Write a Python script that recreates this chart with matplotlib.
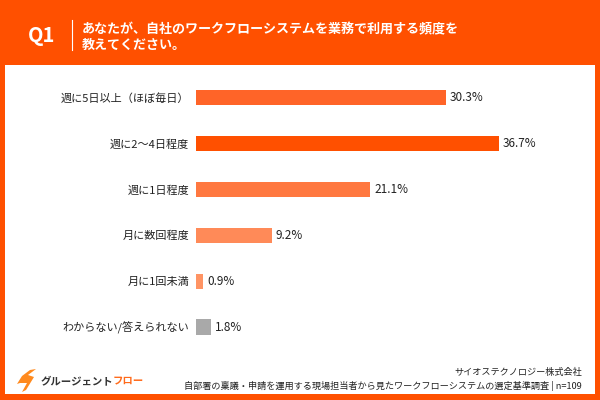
import matplotlib
matplotlib.use("Agg")
import matplotlib.pyplot as plt
from matplotlib.patches import Rectangle, Polygon
from matplotlib.text import Annotation
from matplotlib.transforms import Affine2D

plt.rcParams['font.family'] = ['Noto Sans CJK JP', 'DejaVu Sans']

categories = ["週に5日以上（ほぼ毎日）", "週に2〜4日程度", "週に1日程度",
              "月に数回程度", "月に1回未満", "わからない/答えられない"]
values = [30.3, 36.7, 21.1, 9.2, 0.9, 1.8]
bar_colors = ["#FF6428", "#FF5000", "#FF7840", "#FF8A58", "#FF9464", "#A9A9A9"]

title_lines = "あなたが、自社のワークフローシステムを業務で利用する頻度を\n教えてください。"
company = "サイオステクノロジー株式会社"
survey = "自部署の稟議・申請を運用する現場担当者から見たワークフローシステムの選定基準調査 | n=109"

orange = "#FF5000"
W, H = 600, 400

fig = plt.figure(figsize=(6, 4), dpi=100)
fig.patch.set_facecolor(orange)

def px(x, y):
    return x / W, 1 - y / H

# white panel
fig.patches.append(Rectangle(px(5, 394), 590 / W, 329 / H, transform=fig.transFigure,
                             facecolor="white", edgecolor="none", zorder=-5))

# header
fig.text(*px(28, 36), "Q1", color="white", fontsize=14.5, fontweight="bold", va="center", ha="left")
fig.add_artist(plt.Line2D([72 / W, 72 / W], [1 - 20 / H, 1 - 50 / H], color="white", lw=0.8,
                          transform=fig.transFigure))
fig.text(*px(82, 37), title_lines, color="white", fontsize=9.4, fontweight="bold",
         va="center", ha="left", linespacing=1.2)

# chart
ax = fig.add_axes([196 / W, 1 - 350 / H, 390 / W, 275.5 / H])
ax.set_facecolor("none")
y = list(range(len(categories)))
ax.barh(y, values, height=0.33, color=bar_colors)
ax.set_xlim(0, 390 / 8.26)
ax.set_ylim(5.5, -0.5)
ax.set_yticks(y)
ax.set_yticklabels(categories, fontsize=8, color="#222222")
ax.tick_params(axis="y", length=0, pad=5)
ax.set_xticks([])
for s in ax.spines.values():
    s.set_visible(False)
for yi, v in zip(y, values):
    ax.text(v + 0.45, yi, f"{v:.1f}%", va="center", ha="left", fontsize=8.5, color="#222222")

# footer logo
logo = Polygon([(17, 384), (22, 376), (30, 370), (36, 369), (28, 375), (34, 377),
                (26, 390), (22, 392), (27, 383), (20, 383)],
               closed=True, facecolor="#FF8A1E", edgecolor="none")
logo.set_transform(Affine2D().scale(1 / W, -1 / H).translate(0, 1) + fig.transFigure)
fig.patches.append(logo)
t = fig.text(*px(41, 381), "グルージェント", color="#333333", fontsize=7.5, fontweight="bold",
             va="center", ha="left")
fig.add_artist(Annotation("フロー", xy=(1, 0.5), xycoords=t, xytext=(-1, 0),
                          textcoords="offset points", color="#FF6A1A", fontsize=7.5,
                          fontweight="bold", va="center", ha="left"))

fig.text(*px(582, 372), company, color="#222222", fontsize=6.6, va="center", ha="right")
fig.text(*px(582, 386), survey, color="#222222", fontsize=6.6, va="center", ha="right")

fig.savefig("out.png", dpi=100, facecolor=orange)
